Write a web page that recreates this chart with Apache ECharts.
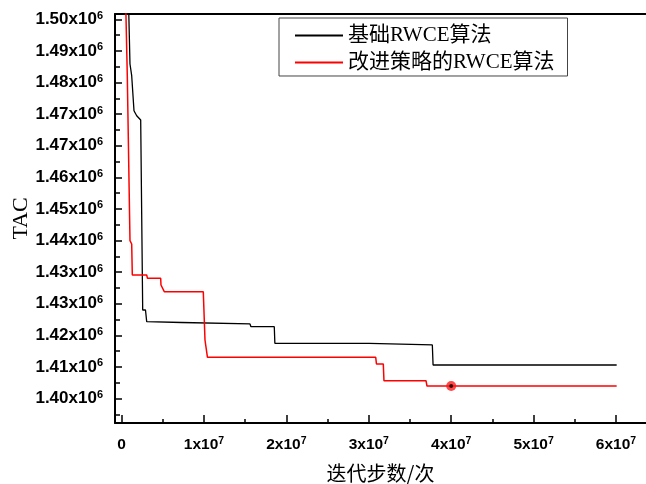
<!DOCTYPE html>
<html><head><meta charset="utf-8">
<script src="https://cdn.jsdelivr.net/npm/echarts@6/dist/echarts.min.js"></script>
<style>html,body{margin:0;padding:0;background:#fff}#c{width:646px;height:484px}</style>
</head><body><div id="c"></div>
<script>
// ---- data ----
const seriesNames = ['基础RWCE算法', '改进策略的RWCE算法'];
const basicX = [780000, 1019000, 1226000, 1505000, 1833000, 2318000, 2561000, 2900000, 3046000, 7290000, 7330000, 15580000, 15700000, 18530000, 18600000, 30060000, 30150000, 37710000, 37800000, 60080000];
const basicY = [1510000, 1488210, 1485130, 1475900, 1474580, 1473450, 1423340, 1423340, 1420260, 1420050, 1419660, 1419660, 1418940, 1418940, 1414560, 1414560, 1414120, 1414120, 1408840, 1408840];
const improvedX = [440000, 692000, 1019000, 1226000, 1300000, 3046000, 3140000, 4745000, 4780000, 5020000, 5180000, 9915000, 10120000, 10330000, 10420000, 30840000, 30930000, 31760000, 31840000, 36940000, 37060000, 60080000];
const improvedY = [1510000, 1485130, 1441620, 1440750, 1432570, 1432570, 1431700, 1431700, 1429940, 1429940, 1428170, 1428170, 1415430, 1415430, 1410870, 1410870, 1409100, 1409100, 1404700, 1404700, 1403300, 1403300];
const markerPoint = [40000000, 1403300];
const yTickLabels = ['1.40', '1.41', '1.42', '1.43', '1.43', '1.44', '1.45', '1.46', '1.47', '1.47', '1.48', '1.49', '1.50'];
const xTickLabels = ['0', '1', '2', '3', '4', '5', '6'];
const xTitle = '迭代步数/次';
const yTitle = 'TAC';

// ---- axis setup ----
const yStep = 100000 / 12;
const yTickValues = yTickLabels.map((_, i) => 1400000 + i * yStep);
const yMinorValues = [1400000 - yStep / 2].concat(yTickValues.slice(0, -1).map(v => v + yStep / 2));
const xTickValues = xTickLabels.map((_, i) => i * 1e7);
const xMinorValues = xTickValues.slice(0, -1).map(v => v + 5e6);
const xMin = -800000, xMax = 63640000, yMin = 1393544, yMax = 1501398;

const labelFont = {fontFamily: 'Liberation Sans, Arial, sans-serif', color: '#000', fontWeight: 'bold'};
const yRich = {
  m: Object.assign({fontSize: 17, lineHeight: 18}, labelFont),
  e: Object.assign({fontSize: 11, verticalAlign: 'top', lineHeight: 18}, labelFont)
};
const xRich = {
  m: Object.assign({fontSize: 15.5, lineHeight: 17}, labelFont),
  e: Object.assign({fontSize: 10.5, verticalAlign: 'top', lineHeight: 17}, labelFont)
};

const chart = echarts.init(document.getElementById('c'), null, {renderer: 'canvas'});
chart.setOption({
  animation: false,
  backgroundColor: '#fff',
  grid: {left: 115, right: 0, top: 14, bottom: 61, containLabel: false, outerBoundsMode: 'none'},
  legend: {
    data: seriesNames,
    orient: 'vertical',
    left: 279, top: 18,
    padding: [7, 13, 3, 16],
    itemGap: 6,
    itemWidth: 48, itemHeight: 2,
    icon: 'rect',
    borderColor: '#444', borderWidth: 1,
    backgroundColor: '#fff',
    textStyle: {fontFamily: 'Liberation Serif, Noto Sans CJK SC, serif', fontSize: 21, color: '#000'}
  },
  xAxis: [
    {
      type: 'value', min: xMin, max: xMax, position: 'bottom',
      name: xTitle, nameLocation: 'middle', nameGap: 40, nameMoveOverlap: false,
      nameTextStyle: {fontFamily: 'Noto Sans CJK SC, serif', fontSize: 20, color: '#000'},
      splitLine: {show: false},
      axisLine: {onZero: false, lineStyle: {color: '#000', width: 2}},
      axisTick: {inside: true, length: 8, customValues: xTickValues, lineStyle: {color: '#000', width: 1.5}},
      axisLabel: {
        customValues: xTickValues, margin: 13, rich: xRich,
        formatter: v => {
          const i = Math.round(v / 1e7);
          const t = xTickLabels[i];
          return t === '0' ? '{m|0}' : '{m|' + t + 'x10}{e|7}';
        }
      }
    },
    {
      type: 'value', min: xMin, max: xMax, position: 'bottom',
      splitLine: {show: false}, axisLabel: {show: false},
      axisLine: {show: false, onZero: false},
      axisTick: {inside: true, length: 4, customValues: xMinorValues, lineStyle: {color: '#000', width: 1.5}}
    },
    {
      type: 'value', min: xMin, max: xMax, position: 'top',
      splitLine: {show: false}, axisLabel: {show: false}, axisTick: {show: false},
      axisLine: {show: true, onZero: false, lineStyle: {color: '#000', width: 2}}
    }
  ],
  yAxis: [
    {
      type: 'value', min: yMin, max: yMax, position: 'left',
      name: yTitle, nameLocation: 'middle', nameGap: 83, nameRotate: 90, nameMoveOverlap: false,
      nameTextStyle: {fontFamily: 'Liberation Serif, Times New Roman, serif', fontSize: 22, color: '#000'},
      splitLine: {show: false},
      axisLine: {show: true, onZero: false, lineStyle: {color: '#000', width: 2}},
      axisTick: {inside: true, length: 7, customValues: yTickValues, lineStyle: {color: '#000', width: 1.5}},
      axisLabel: {
        customValues: yTickValues, margin: 12, rich: yRich,
        formatter: v => {
          const i = Math.round((v - 1400000) / yStep);
          return '{m|' + yTickLabels[i] + 'x10}{e|6}';
        }
      }
    },
    {
      type: 'value', min: yMin, max: yMax, position: 'left',
      splitLine: {show: false}, axisLabel: {show: false},
      axisLine: {show: false, onZero: false},
      axisTick: {inside: true, length: 5, customValues: yMinorValues, lineStyle: {color: '#000', width: 1.5}}
    }
  ],
  series: [
    {
      name: seriesNames[0], type: 'line', showSymbol: false, clip: true,
      color: '#000', lineStyle: {color: '#000', width: 1.3},
      data: basicX.map((x, i) => [x, basicY[i]])
    },
    {
      name: seriesNames[1], type: 'line', showSymbol: false, clip: true,
      color: '#ff0000', lineStyle: {color: '#ff0000', width: 1.5},
      data: improvedX.map((x, i) => [x, improvedY[i]])
    },
    {
      name: 'marker', type: 'scatter', symbol: 'circle', symbolSize: 10,
      itemStyle: {color: '#ff1a1a'}, z: 5, data: [markerPoint]
    },
    {
      name: 'markerDot', type: 'scatter', symbol: 'circle', symbolSize: 4,
      itemStyle: {color: '#000'}, z: 6, data: [markerPoint]
    }
  ]
});
</script></body></html>
